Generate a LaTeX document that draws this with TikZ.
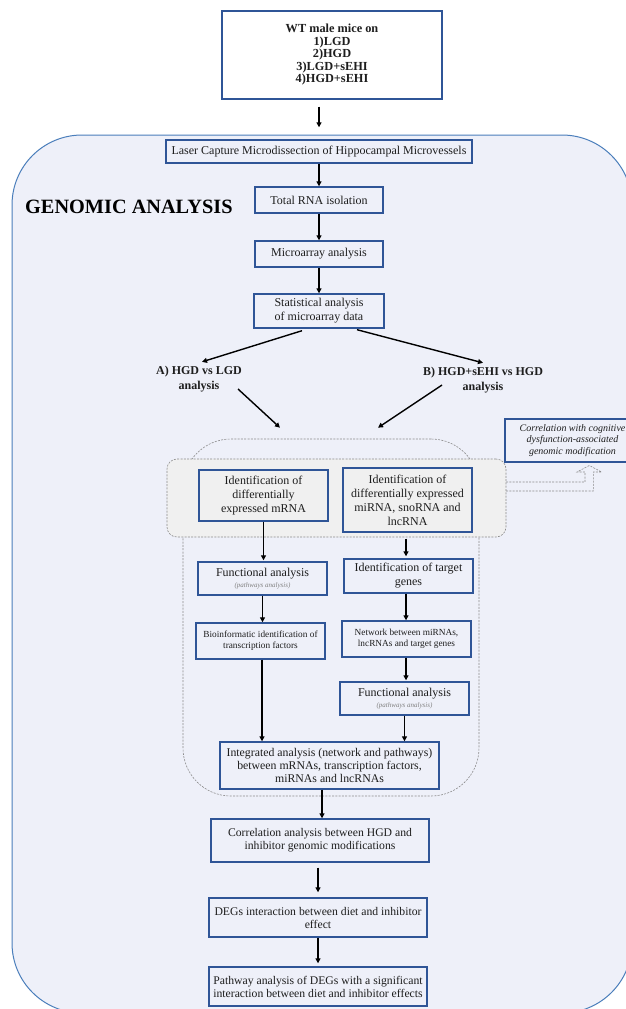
\documentclass[tikz,border=0pt]{standalone}
\usepackage{fontspec}
\setmainfont{Liberation Serif}
\usetikzlibrary{arrows.meta,calc,shadows}
\definecolor{bg}{HTML}{EEF0F9}
\definecolor{boxblue}{HTML}{2F5597}
\definecolor{bigblue}{HTML}{4A7EBB}
\definecolor{greyfill}{HTML}{F0F0F0}
\definecolor{dashgrey}{HTML}{8C8C8C}
\definecolor{txt}{HTML}{1E1E1E}
\begin{document}
\begin{tikzpicture}[x=1pt,y=-1pt,
  bigbox/.style={draw=bigblue, line width=1pt, fill=bg, rounded corners=70pt},
  box/.style={draw=boxblue, line width=1.4pt, fill=bg, align=center, inner sep=1pt, text=txt,
    font=\fontsize{12}{14}\selectfont,
    drop shadow={shadow xshift=0.8pt, shadow yshift=-1.2pt, opacity=0.22, fill=black}},
  greybox/.style={box, fill=greyfill},
  smallbox/.style={box, font=\fontsize{9.3}{11}\selectfont},
  lowbox/.style={box, font=\fontsize{11.7}{13}\selectfont},
  topbox/.style={box, fill=white, font=\fontsize{12.3}{12.5}\selectfont\bfseries},
  corrbox/.style={box, font=\fontsize{10}{11.6}\selectfont\itshape},
  branch/.style={align=center, inner sep=1pt, text=txt, font=\fontsize{12}{15}\selectfont\bfseries},
  titletext/.style={inner sep=0pt, text=black, font=\fontsize{20.3}{24}\selectfont\bfseries},
  grpbox/.style={draw=dashgrey, line width=0.6pt, dash pattern=on 2pt off 1.3pt, rounded corners=48pt},
  hlbox/.style={draw=dashgrey, line width=0.6pt, dash pattern=on 2pt off 1.3pt, fill=greyfill, rounded corners=10pt},
  dasharrow/.style={draw=dashgrey, line width=0.6pt, dash pattern=on 2pt off 1.3pt},
  arr/.style={-{Triangle[length=5pt,width=5pt]}, line width=1.4pt, draw=black}
]
\useasboundingbox (0,0) rectangle (626,1009);
\clip (0,0) rectangle (626,1009);
\fill[white] (0,0) rectangle (626,1009);

% big genomic analysis panel
\draw[bigbox] (12,135) rectangle (632,1013);

\newcommand{\pwline}{\\[-3pt]{\fontsize{7}{8}\selectfont\itshape\color{gray}(pathways analysis)}}

% top box
\node[topbox, minimum width=220pt, minimum height=88pt] (top) at (332,55)
  {\raisebox{5pt}{\begin{tabular}{@{}c@{}}WT male mice on\\1)LGD\\2)HGD\\3)LGD+sEHI\\4)HGD+sEHI\end{tabular}}};

\node[titletext, anchor=base west] (gtitle) at (25,213) {GENOMIC ANALYSIS};

\node[box, minimum width=306pt, minimum height=23pt] (laser) at (319,151.5)
  {Laser Capture Microdissection of Hippocampal Microvessels};
\node[box, minimum width=128pt, minimum height=26pt] (total) at (319,200) {Total RNA isolation};
\node[box, minimum width=128pt, minimum height=26pt] (micro) at (319,254) {Microarray analysis};
\node[box, minimum width=130pt, minimum height=34pt] (stat) at (319,311)
  {Statistical analysis\\of microarray data};

\node[branch] (alab) at (199,379) {A) HGD vs LGD\\analysis};
\node[branch] (blab) at (483,380) {B) HGD+sEHI vs HGD\\analysis};

% grouping shapes
\node[grpbox, minimum width=296pt, minimum height=357pt] (grp) at (331,617.5) {};
\node[hlbox, minimum width=339pt, minimum height=78pt] (hl) at (336.5,498) {};

\node[greybox, minimum width=129pt, minimum height=51pt] (mrna) at (263.5,495.5)
  {Identification of\\differentially\\expressed mRNA};
\node[greybox, minimum width=129pt, minimum height=64pt] (mirna) at (407.5,500)
  {Identification of\\differentially expressed\\miRNA, snoRNA and\\lncRNA};

\node[corrbox, minimum width=135pt, minimum height=43pt] (corr) at (572.5,440.5)
  {Correlation with cognitive\\dysfunction-associated\\genomic modification};

% dashed bent block arrow
\draw[dasharrow] (506,482) -- (585,482) -- (585,472) -- (577,472) -- (589.3,465.5)
  -- (601.7,472) -- (593.3,472) -- (593.3,491) -- (506,491);

\node[box, minimum width=129pt, minimum height=33pt] (funcL) at (262.5,578.5)
  {Functional analysis\pwline};
\node[box, minimum width=129pt, minimum height=34pt] (target) at (408.5,576)
  {Identification of target\\genes};
\node[smallbox, minimum width=129pt, minimum height=36pt] (bio) at (260.5,641)
  {Bioinformatic identification of\\transcription factors};
\node[smallbox, minimum width=129pt, minimum height=36pt] (net) at (406.5,639)
  {Network between miRNAs,\\lncRNAs and target genes};
\node[box, minimum width=129pt, minimum height=33pt] (funcR) at (404.5,698.5)
  {Functional analysis\pwline};
\node[box, minimum width=219pt, minimum height=47pt, font=\fontsize{11.8}{13.3}\selectfont] (integ) at (329.5,765.5)
  {Integrated analysis (network and pathways)\\between mRNAs, transcription factors,\\miRNAs and lncRNAs};

\node[lowbox, minimum width=218pt, minimum height=43pt] (corran) at (320,840.5)
  {Correlation analysis between HGD and\\inhibitor genomic modifications};
\node[lowbox, minimum width=218pt, minimum height=39pt] (degs) at (318,917.5)
  {DEGs interaction between diet and inhibitor\\effect};
\node[lowbox, minimum width=218pt, minimum height=39pt] (path) at (318,986.5)
  {Pathway analysis of DEGs with a significant\\interaction between diet and inhibitor effects};

% connectors
\draw[arr] ($(top.south)+(-13,7)$) -- ($(laser.north)+(0,-12)$);
\draw[arr] (laser.south) -- (total.north);
\draw[arr] (total.south) -- (micro.north);
\draw[arr] (micro.south) -- (stat.north);
\draw[arr] ($(stat.south)+(-17,2)$) -- ($(alab.north)+(3,-3)$);
\draw[arr] ($(stat.south)+(38,1)$) -- ($(blab.north)+(0,-3)$);
\draw[arr] ($(alab.center)+(39,10)$) -- ($(grp.north)+(-51,-11)$);
\draw[arr] ($(blab.center)+(-41,5)$) -- ($(grp.north)+(47,-11)$);
\draw[arr] (mrna.south) -- ($(mrna.south |- funcL.north)+(0,-1)$);
\draw[arr] ($(mirna.south)+(-1.5,6)$) -- ($(target.north)+(-2.5,-2)$);
\draw[arr] (funcL.south) -- (funcL.south |- bio.north);
\draw[arr] ($(target.south)+(-2.5,0)$) -- ($(net.north)+(-0.5,0)$);
\draw[arr] ($(net.south)+(-0.5,0)$) -- ($(funcR.north)+(1.5,-1)$);
\draw[arr] ($(bio.south)+(1.5,0)$) -- ($(bio.south |- integ.north)+(1.5,0)$);
\draw[arr] (funcR.south) -- (funcR.south |- integ.north);
\draw[arr] ($(integ.south)+(-7.5,0)$) -- ($(integ.south |- corran.north)+(-7.5,0)$);
\draw[arr] ($(corran.south)+(-2,5)$) -- ($(degs.north)+(0,-5)$);
\draw[arr] (degs.south) -- ($(path.north)+(0,-3)$);
\end{tikzpicture}
\end{document}
